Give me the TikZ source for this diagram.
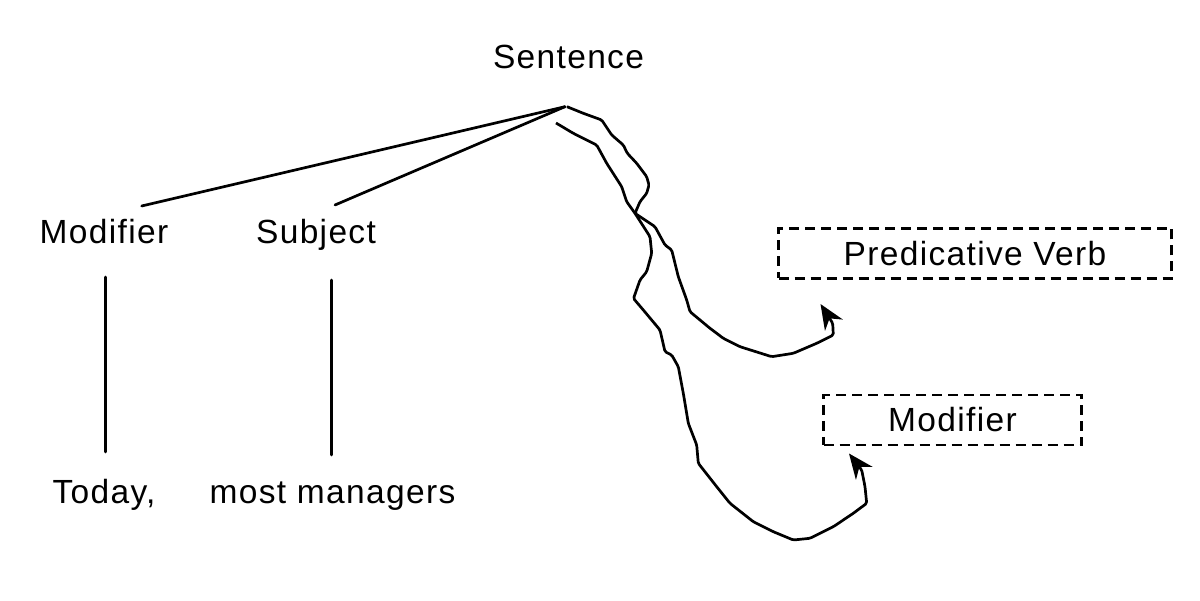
\documentclass[tikz,border=0pt]{standalone}
\usepackage{fontspec}
\setmainfont{Liberation Sans}[LetterSpace=4]
\usetikzlibrary{arrows.meta}
\begin{document}
\begin{tikzpicture}[x=1pt,y=-1pt,
  lbl/.style={font=\fontsize{33.5pt}{40pt}\selectfont,inner sep=0pt,anchor=base},
  treeline/.style={line width=2.7pt,line cap=round},
  wavy/.style={line width=2.7pt,line join=round,rounded corners=1.5pt,
     -{Stealth[length=25pt,width=21pt,inset=8pt]}},
  dbox/.style={draw,line width=2.6pt,dash pattern=on 10pt off 6pt,
     minimum width=393pt,minimum height=50pt,inner sep=0pt,
     font=\fontsize{33.5pt}{40pt}\selectfont,text height=24pt,text depth=0pt}]
\useasboundingbox (0,0) rectangle (1200,601);
% texts
\node[lbl] (sent) at (568.5,69) {Sentence};
\node[lbl] (modl) at (104,243.3) {Modifier};
\node[lbl] (subj) at (316,243.3) {Subject};
\node[lbl] (today) at (104,503.3) {Today,};
\node[lbl] (most) at (332.5,503.3) {most managers};
\node[dbox] (pv) at (975,253.3) {Predicative Verb};
\node[dbox,minimum width=258pt] (modr) at (952.5,420) {Modifier};
% coordinates
\coordinate (j) at (565,106.7);
\coordinate (jm) at (141.7,206);
\coordinate (js) at (335,205);
\coordinate (v1a) at (105.7,277);
\coordinate (v1b) at (105.7,452);
\coordinate (v2a) at (331.7,280);
\coordinate (v2b) at (331.7,455);
\coordinate (p1s) at (567,106.7);
\coordinate (p2s) at (556,123);
\coordinate (t1) at (820.5,304);
\coordinate (t2) at (849,453.5);
% tree lines
\draw[treeline] (j) -- (jm);
\draw[treeline] (j) -- (js);
\draw[treeline] (v1a) -- (v1b);
\draw[treeline] (v2a) -- (v2b);
% wavy path to Predicative Verb
\draw[wavy] (p1s) -- (583.3,113.3) -- (601.7,120) -- (611.7,135) -- (623.3,145)
  -- (627.3,153.3) -- (636.7,163.3) -- (646.7,176.7) -- (649,185) -- (646.7,193.3)
  -- (640,201.7) -- (635,213.3) -- (655,226.7) -- (665,245) -- (671.7,250)
  -- (678.3,276.7) -- (686.7,300) -- (690,311.7) -- (710,328.3) -- (723.3,338.3)
  -- (740,346.7) -- (771.7,356.7) -- (793.3,353.3) -- (816.7,343.3) -- (833.3,335)
  -- (832.7,323.3) -- (t1);
% wavy path to Modifier
\draw[wavy] (p2s) -- (573.3,133.3) -- (596.7,145) -- (606.7,163.3) -- (621.7,186.7)
  -- (626.7,201.7) -- (635,213.3) -- (650,236.7) -- (651.7,253.3) -- (646.7,271.7)
  -- (640,280) -- (633.5,298.5) -- (643.3,310) -- (660,330) -- (665,351.7)
  -- (671.7,355) -- (678.3,366.7) -- (683.3,393.3) -- (688.3,423.3) -- (696.7,445)
  -- (698.3,463.3) -- (716.7,486.7) -- (730,503.3) -- (753.3,521.7) -- (773.3,531.7)
  -- (793.3,540) -- (810,538.3) -- (833.3,526.7) -- (853.3,513.3) -- (866.7,503.3)
  -- (865,486.7) -- (861.7,470) -- (t2);
\end{tikzpicture}
\end{document}
